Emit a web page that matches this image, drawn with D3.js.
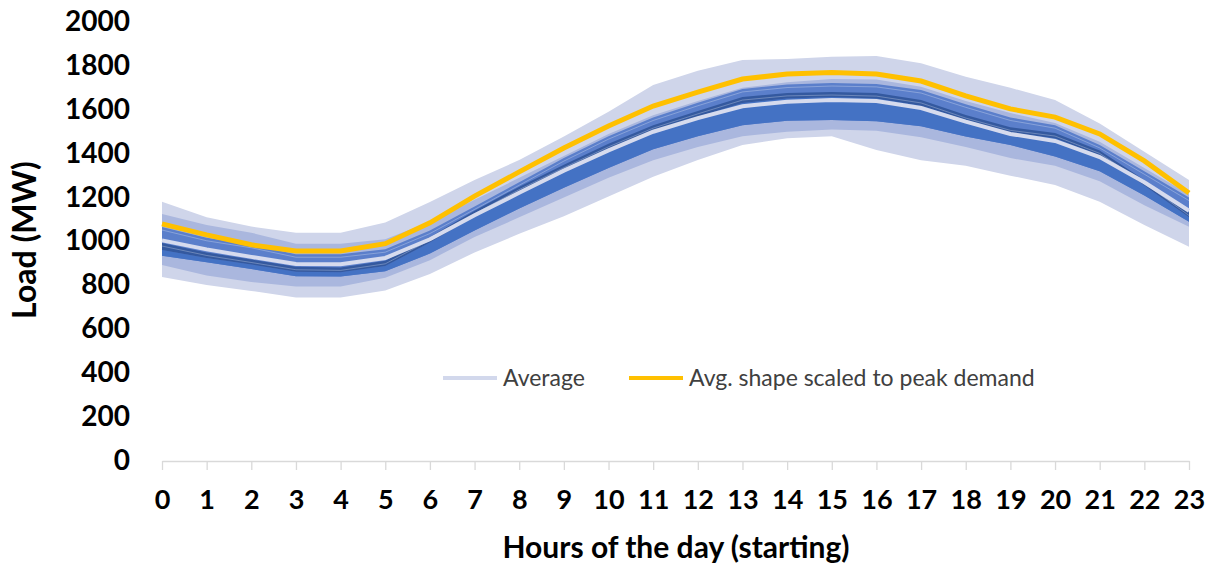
<!DOCTYPE html>
<html>
<head>
<meta charset="utf-8">
<script src="https://cdn.jsdelivr.net/npm/d3@7"></script>
<style>
    body { margin: 0; background: #fff; }
    #chart-area text { font-family: Lato, "Open Sans", sans-serif; }
</style>
</head>
<body>
<div id="chart-area"></div>
<script>

// hourly load bands (MW)
var hours = [0,1,2,3,4,5,6,7,8,9,10,11,12,13,14,15,16,17,18,19,20,21,22,23];

var maxLoad     = [1181,1110,1068,1040,1040,1086,1180,1280,1371,1478,1591,1713,1778,1827,1831,1842,1845,1812,1751,1700,1645,1538,1409,1280];
var p90Load     = [1125,1075,1040,990,990,1010,1090,1190,1290,1390,1490,1575,1640,1700,1725,1740,1738,1705,1640,1585,1540,1455,1335,1215];
var p75Load     = [1066,1017,985,942,942,965,1050,1160,1270,1380,1480,1565,1632,1695,1715,1722,1718,1690,1625,1565,1530,1440,1320,1200];
var darkTopLoad = [993,950,918,885,882,912,1020,1140,1250,1350,1445,1530,1595,1658,1677,1681,1676,1645,1576,1520,1494,1415,1280,1132];
var darkBotLoad = [961,925,895,862,860,888,995,1115,1225,1328,1420,1505,1568,1631,1652,1658,1652,1618,1553,1497,1470,1392,1255,1110];
var p25Load     = [935,905,875,842,840,865,945,1050,1150,1245,1335,1420,1480,1530,1550,1553,1548,1525,1478,1440,1387,1320,1210,1090];
var p10Load     = [893,845,815,795,795,835,915,1020,1110,1200,1290,1370,1430,1480,1500,1510,1505,1475,1430,1380,1345,1275,1165,1067];
var minLoad     = [838,802,775,745,745,777,852,950,1035,1115,1205,1295,1371,1440,1470,1480,1417,1370,1345,1300,1257,1181,1075,976];

var avgLoad     = [1005,964,930,898,896,925,1010,1120,1222,1323,1415,1500,1562,1616,1637,1645,1640,1608,1546,1490,1458,1385,1270,1140];
var scaledLoad  = [1080,1030,985,957,957,990,1085,1207,1317,1426,1526,1617,1681,1740,1763,1770,1763,1731,1663,1604,1567,1490,1367,1221];

var yTicks = [0,200,400,600,800,1000,1200,1400,1600,1800,2000];
var legendLabels = ["Average", "Avg. shape scaled to peak demand"];


/*
 * LoadChart - Object constructor function
 * @param _parentElement 	-- the HTML element in which to draw the chart
 */

LoadChart = function(_parentElement){
    this.parentElement = _parentElement;

    this.initVis();
}


LoadChart.prototype.initVis = function(){
    var vis = this;

    vis.width = 1210;
    vis.height = 565;

    vis.svg = d3.select("#" + vis.parentElement).append("svg")
        .attr("width", vis.width)
        .attr("height", vis.height);

    vis.x = d3.scaleLinear()
        .domain([0, 23])
        .range([162, 1189]);

    vis.y = d3.scaleLinear()
        .domain([0, 2000])
        .range([461, 22]);

    vis.wrangleData();
}


LoadChart.prototype.wrangleData = function(){
    var vis = this;

    vis.displayData = hours.map(function(h, i){
        return {
            hour: h,
            max: maxLoad[i], p90: p90Load[i], p75: p75Load[i],
            darkTop: darkTopLoad[i], darkBot: darkBotLoad[i],
            p25: p25Load[i], p10: p10Load[i], min: minLoad[i],
            avg: avgLoad[i], scaled: scaledLoad[i]
        };
    });

    vis.updateVis();
}


LoadChart.prototype.updateVis = function(){
    var vis = this;

    // bands, outside in
    var bands = [
        { lo: "min",     hi: "max",     color: "#CFD5EA" },
        { lo: "p10",     hi: "p90",     color: "#AAB7DE" },
        { lo: "p25",     hi: "p75",     color: "#5B7FCB" },
        { lo: "p25",     hi: "darkBot", color: "#4472C4" },
        { lo: "darkBot", hi: "darkTop", color: "#34599F" }
    ];

    bands.forEach(function(b){
        var area = d3.area()
            .x(d => vis.x(d.hour))
            .y0(d => vis.y(d[b.lo]))
            .y1(d => vis.y(d[b.hi]));

        vis.svg.append("path")
            .datum(vis.displayData)
            .attr("fill", b.color)
            .attr("d", area);
    });

    // faint seams between the stacked blue series
    ["p75", "darkTop"].forEach(function(key){
        vis.svg.append("path")
            .datum(vis.displayData)
            .attr("fill", "none")
            .attr("stroke", "rgba(255,255,255,0.35)")
            .attr("stroke-width", 0.8)
            .attr("d", d3.line().x(d => vis.x(d.hour)).y(d => vis.y(d[key]) + 3));
    });

    // x axis
    vis.xAxis = d3.axisBottom(vis.x)
        .tickValues(hours)
        .tickFormat(d3.format("d"))
        .tickSizeInner(9)
        .tickSizeOuter(0)
        .tickPadding(20);

    var xg = vis.svg.append("g")
        .attr("transform", "translate(0," + vis.y(0) + ")")
        .call(vis.xAxis);
    xg.select(".domain").attr("stroke", "#D9D9D9").attr("stroke-width", 1.3);
    xg.selectAll(".tick line").attr("stroke", "#D9D9D9").attr("stroke-width", 1.3);
    xg.selectAll(".tick text")
        .style("font-size", "27px")
        .style("font-weight", "bold")
        .attr("fill", "#000");

    // y axis (labels only)
    vis.yAxis = d3.axisLeft(vis.y)
        .tickValues(yTicks)
        .tickFormat(d3.format("d"))
        .tickSize(0)
        .tickPadding(32);

    var yg = vis.svg.append("g")
        .attr("transform", "translate(" + vis.x(0) + ",0)")
        .call(vis.yAxis);
    yg.select(".domain").remove();
    yg.selectAll(".tick text")
        .style("font-size", "28px")
        .style("font-weight", "bold")
        .attr("dy", "0.3em")
        .attr("fill", "#000");

    // lines
    var line = function(key){
        return d3.line()
            .x(d => vis.x(d.hour))
            .y(d => vis.y(d[key]));
    };

    vis.svg.append("path")
        .datum(vis.displayData)
        .attr("fill", "none")
        .attr("stroke", "#D6DBEE")
        .attr("stroke-width", 4)
        .attr("d", line("avg"));

    vis.svg.append("path")
        .datum(vis.displayData)
        .attr("fill", "none")
        .attr("stroke", "#FFC000")
        .attr("stroke-width", 5)
        .attr("d", line("scaled"));

    // axis titles
    vis.svg.append("text")
        .attr("x", 676)
        .attr("y", 558)
        .attr("text-anchor", "middle")
        .style("font-size", "30px")
        .style("font-weight", "bold")
        .text("Hours of the day (starting)");

    vis.svg.append("text")
        .attr("transform", "translate(36,240) rotate(-90)")
        .attr("text-anchor", "middle")
        .style("font-size", "32px")
        .style("font-weight", "bold")
        .text("Load (MW)");

    // legend
    var legend = vis.svg.append("g")
        .attr("transform", "translate(0,378)");

    var legendItems = [
        { x: 443, color: "#D2D8EC", label: legendLabels[0] },
        { x: 629, color: "#FFC000", label: legendLabels[1] }
    ];

    legendItems.forEach(function(item){
        legend.append("line")
            .attr("x1", item.x).attr("x2", item.x + 54)
            .attr("y1", 0).attr("y2", 0)
            .attr("stroke", item.color)
            .attr("stroke-width", 4);

        legend.append("text")
            .attr("x", item.x + 60)
            .attr("y", 0)
            .attr("dy", "0.35em")
            .style("font-size", "23px")
            .attr("fill", "#404040")
            .text(item.label);
    });
}

var loadChart = new LoadChart("chart-area");

</script>
</body>
</html>
